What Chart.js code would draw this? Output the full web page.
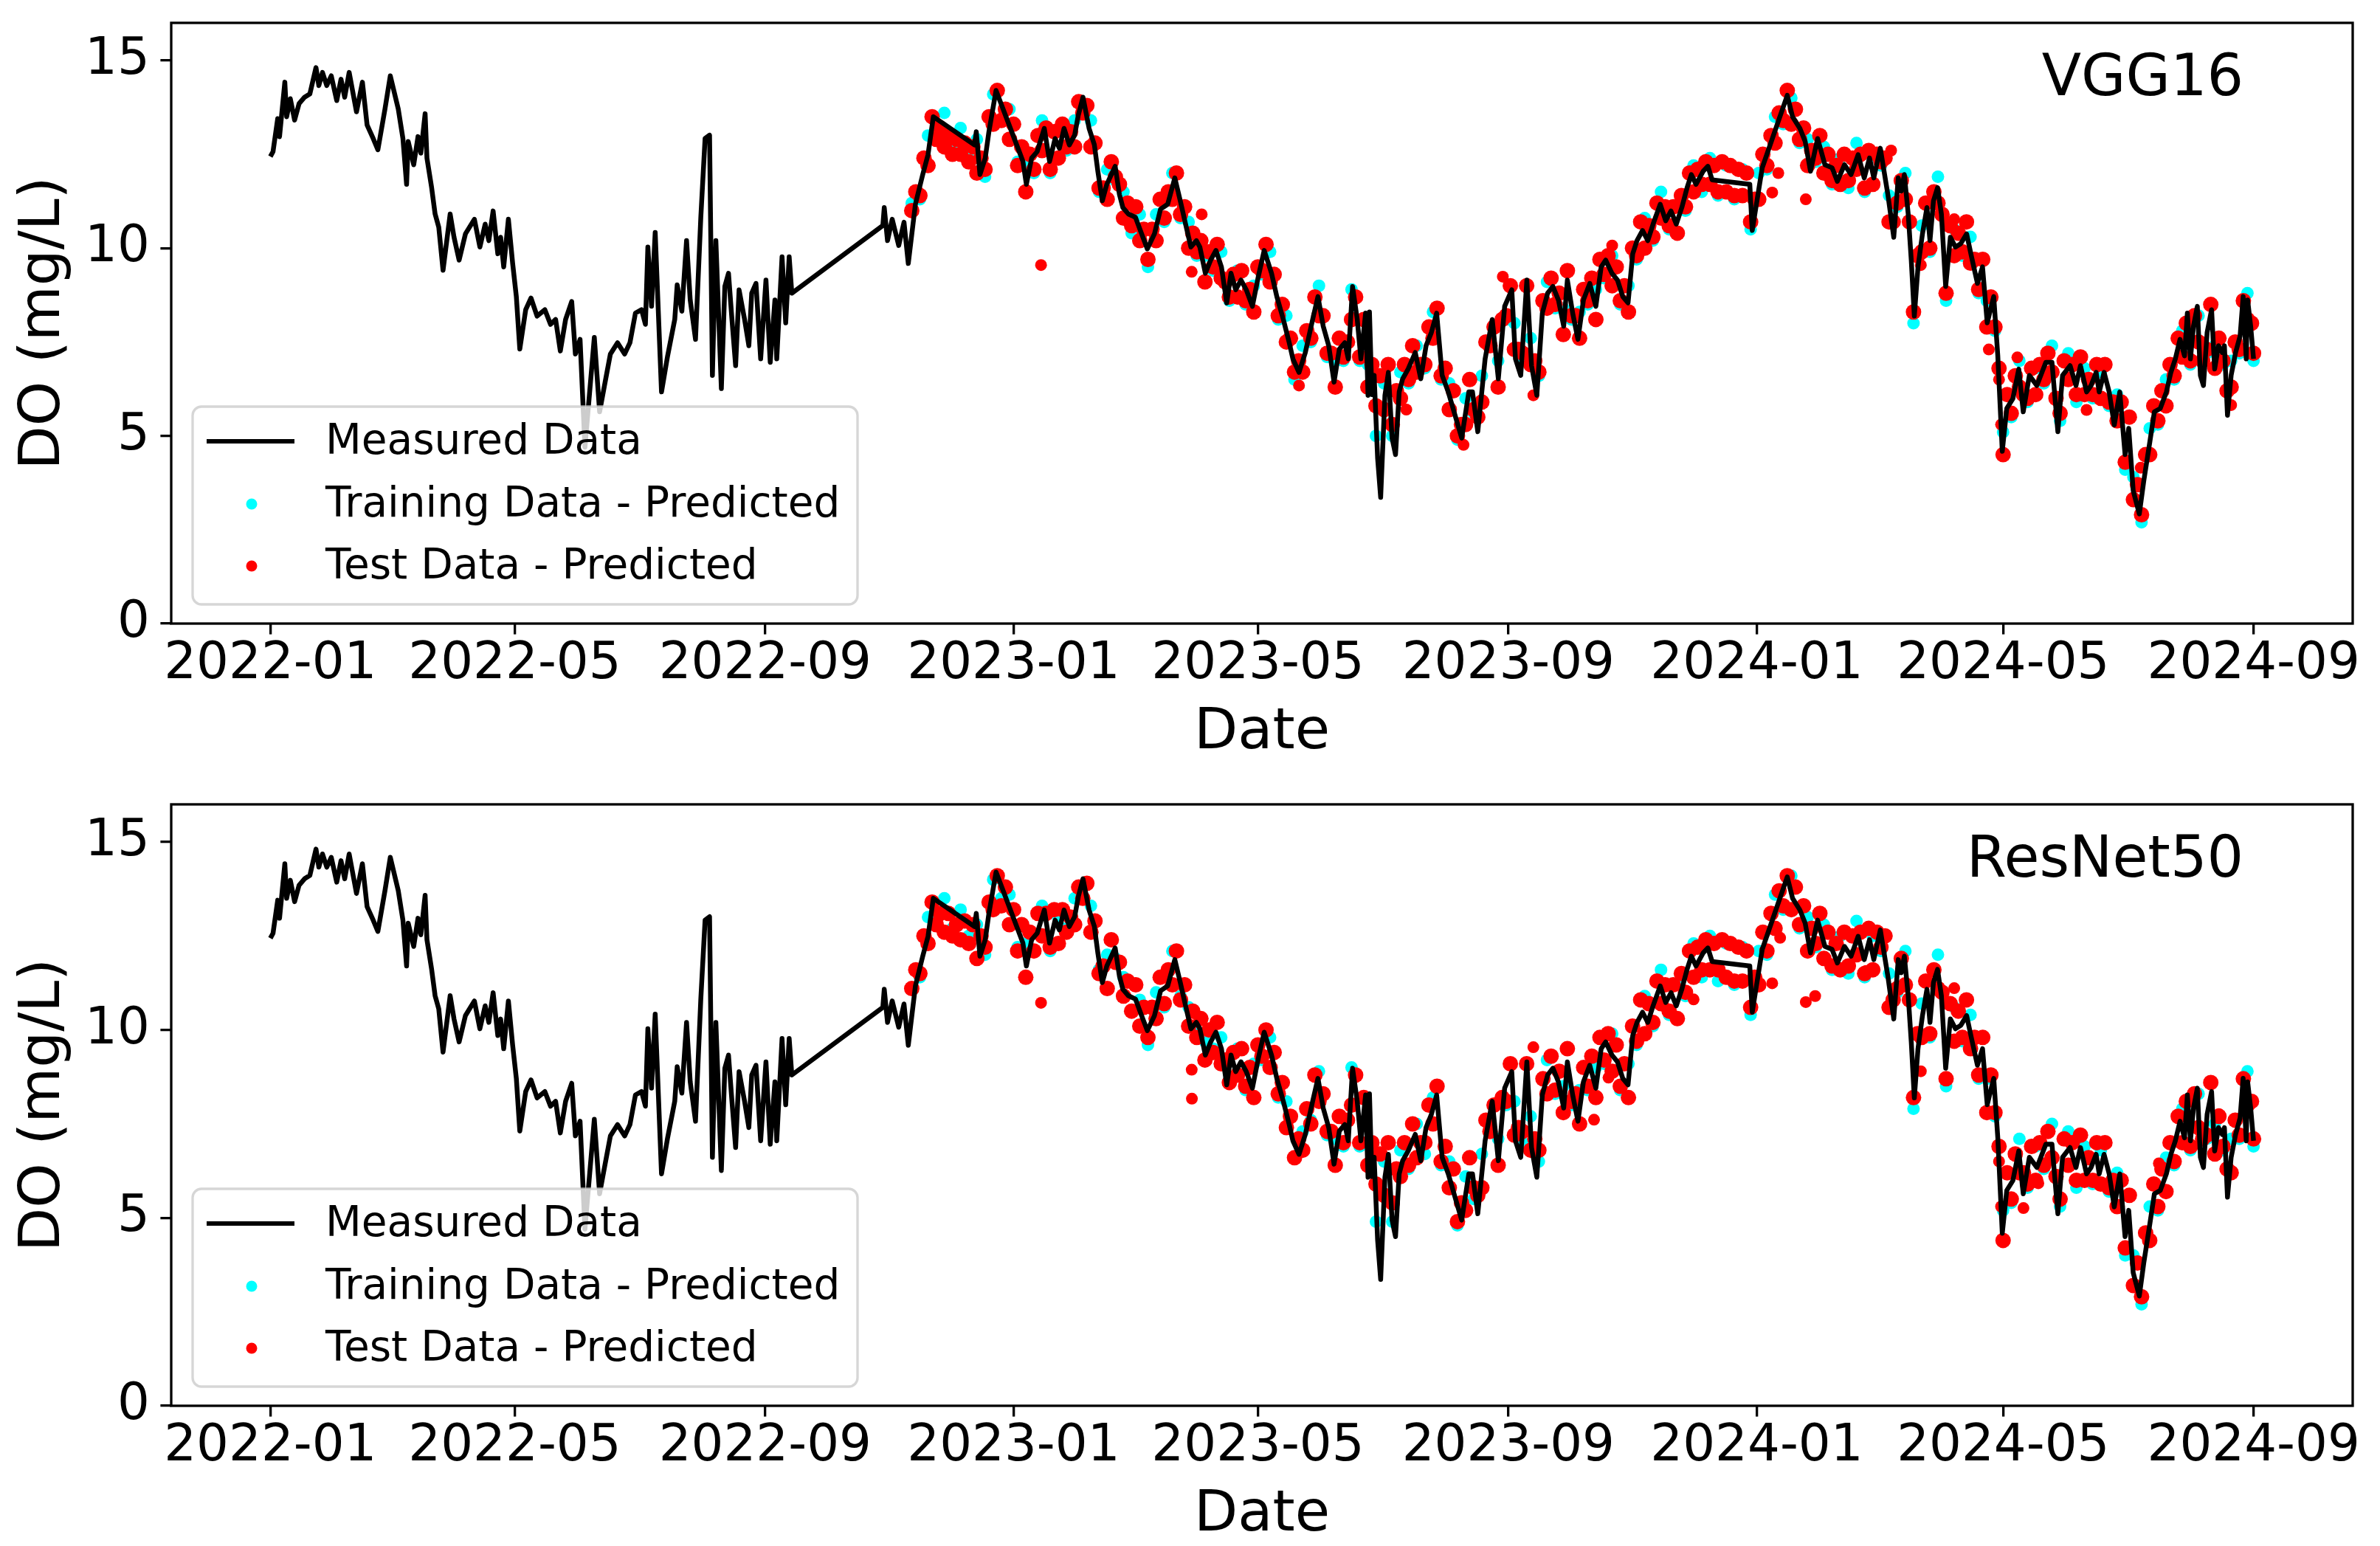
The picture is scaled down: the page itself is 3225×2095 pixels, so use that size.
<!DOCTYPE html>
<html>
<head>
<meta charset="utf-8">
<script src="https://cdn.jsdelivr.net/npm/chart.js@4.4.1/dist/chart.umd.min.js"></script>
<style>
  body { margin: 0; background: #fff; overflow: hidden; }
  canvas { position: absolute; left: 0; }
</style>
</head>
<body>
<canvas id="chartVgg" width="3225" height="1050" style="top:0px"></canvas>
<canvas id="chartRes" width="3225" height="1045" style="top:1050px"></canvas>
<script>
// x values are days since 2022-01-01
const tickDays = [0, 120, 243, 365, 485, 608, 730, 851, 974];
const tickLabels = ['2022-01', '2022-05', '2022-09', '2023-01', '2023-05', '2023-09', '2024-01', '2024-05', '2024-09'];
const yTicks = [0, 5, 10, 15];

// measured DO, Jan - Sep 2022
const measDaysA = [0, 1.3, 3.6, 4.5, 7.1, 8, 9.8, 11.9, 14.1, 16.8, 19.4, 22.4, 23.8, 25.6, 27.7, 29.9, 32.6, 34.7, 36.5, 38.7,
  42.3, 45.2, 47.5, 50.5, 52.8, 56.3, 58.9, 62.8, 65.1, 66.9, 67.7, 70.4, 72.5, 73.9, 76, 76.9, 79.2, 80.9, 82.7, 84.8,
  88.3, 90.2, 92.7, 95.8, 100.2, 102.9, 105.5, 107.3, 109.4, 111.7, 113.1, 114.6, 116.9, 119, 120.8, 122.5, 125.4, 128, 131, 134.8,
  137.6, 140.1, 142.4, 145, 148, 149.8, 152.1, 154.5, 159.1, 161.7, 164.4, 167, 170.5, 174, 176.6, 179.3, 182.3, 184.2, 185.4, 187.2,
  189, 192.1, 195.1, 198.6, 199.8, 202.1, 204.4, 206.2, 208.8, 211.4, 213.5, 215.7, 217.1, 218.8, 221.5, 223.2, 225, 226.7, 228.5, 230.2,
  232.9, 235, 236.4, 238.5, 240.8, 243.4, 245.5, 247.8, 248.7, 251.3, 253.1, 254.8, 256.1];
const measDoA = [12.44, 12.57, 13.45, 12.97, 14.42, 13.5, 13.98, 13.41, 13.85, 14.02, 14.11, 14.81, 14.33, 14.68, 14.33, 14.59, 13.93, 14.5, 14.02, 14.68,
  13.63, 14.42, 13.28, 12.92, 12.62, 13.71, 14.59, 13.71, 12.92, 11.7, 12.84, 12.22, 12.97, 12.53, 13.58, 12.4, 11.61, 10.91, 10.56, 9.41,
  10.91, 10.29, 9.68, 10.38, 10.77, 10.03, 10.64, 10.2, 10.99, 9.85, 10.29, 9.5, 10.77, 9.59, 8.71, 7.31, 8.36, 8.67, 8.19, 8.36,
  7.97, 8.1, 7.26, 8.1, 8.58, 7.18, 7.57, 4.7, 7.62, 5.64, 6.43, 7.18, 7.48, 7.18, 7.48, 8.27, 8.36, 7.97, 10.03, 8.45,
  10.42, 6.17, 7.13, 8.1, 9.02, 8.32, 10.2, 8.62, 7.57, 10.82, 12.92, 13.01, 6.61, 10.2, 6.26, 8.98, 9.33, 8.1, 6.87, 8.89,
  8.1, 7.4, 8.8, 9.06, 7.05, 9.15, 6.96, 8.62, 7.05, 9.77, 8.01, 9.77, 8.8];

// measured DO, Oct 2022 - Jun 2023
const measDaysB = [300.8, 301.5, 303.1, 305.4, 308.6, 311.2, 313.3, 316.8, 320.4, 323, 325.6, 345.8, 346.7, 348.5, 351.1, 352.9, 356.4, 367.8, 369.6, 371.3,
  373.9, 376.6, 380.1, 382.7, 385.4, 387.5, 389.8, 392.4, 395, 396.8, 399.1, 402.1, 404.7, 406.4, 408.6, 410.8, 414.9, 417, 418.7, 421.4,
  424.9, 427.9, 430.7, 434.2, 437.2, 440.7, 444.2, 446.9, 449.5, 452.1, 454.8, 456.5, 459.2, 461.8, 464.4, 467.1, 469.7, 471.8, 474.1, 476.7,
  479.3, 482.3, 485.2, 488.1, 491.7, 494.3, 497.5, 500.4, 502.2, 505.2, 508.3, 511.9, 514.5, 517.1, 519.8, 522.4, 525, 527.7, 529.4, 531.5,
  533.8, 535.6, 537.9, 539.1];
const measDoB = [10.6, 11.08, 10.2, 10.77, 10.07, 10.69, 9.59, 11.17, 11.96, 12.49, 13.5, 12.75, 13.1, 11.96, 12.4, 13.1, 14.2, 12.57, 12.31, 11.7,
  12.4, 12.57, 13.19, 12.31, 12.92, 12.66, 13.19, 12.75, 13.01, 13.54, 14.02, 13.19, 12.75, 12.05, 11.26, 11.7, 12.18, 11.43, 11.08, 10.91,
  10.82, 10.38, 9.98, 10.38, 11.04, 11.17, 11.87, 11.26, 10.64, 10.03, 10.2, 10.03, 9.33, 9.68, 9.94, 9.5, 8.54, 9.33, 8.89, 9.15,
  8.89, 8.45, 9.24, 9.94, 9.33, 8.71, 8.1, 7.48, 7.05, 6.69, 7.22, 8.1, 8.71, 7.92, 7.4, 6.43, 7.31, 7.48, 7.05, 8.98,
  8.1, 7.05, 8.27, 6.08];

// measured DO, Jun 2023 - Mar 2024
const measDaysC = [539.8, 541, 542.1, 543.8, 545.3, 547.4, 549.1, 550.9, 552.6, 554.4, 556.1, 558.8, 562.3, 565, 567.6, 570.2, 572.8, 575.5, 578.5, 585.1,
  588.6, 590.4, 593, 596.6, 600.1, 603.1, 606.2, 609.7, 611.5, 614.1, 617.1, 619.4, 622, 624.7, 627.3, 629.9, 632.6, 635.2, 637, 639.6,
  642.2, 644.9, 648, 651, 653.6, 655.8, 658.9, 661.6, 664.2, 666.8, 669.1, 671.2, 673.9, 676.5, 679.1, 682.6, 685.3, 687.9, 690.5, 693.2,
  695.8, 697.9, 700.2, 703.7, 706, 708.1, 726.6, 727.8, 730.1, 732.7, 745, 747.6, 751.2, 753.8, 756.4, 759.9, 763.5, 767, 769.6, 773.1,
  776.3, 779.8, 782.8, 785.4, 787.5, 790.7];
const measDoC = [8.3, 6.1, 6.61, 4.41, 3.36, 6.08, 6.69, 4.94, 4.5, 6.17, 6.52, 6.78, 7.22, 6.52, 7.4, 7.75, 8.27, 6.61, 6.17, 4.94,
  6.17, 6.17, 5.11, 7.05, 8.1, 6.52, 8.45, 8.89, 7.05, 6.61, 9.15, 6.87, 6.08, 8.27, 8.8, 8.98, 8.62, 7.92, 9.15, 8.27,
  7.57, 8.62, 9.06, 8.45, 9.5, 9.68, 9.33, 9.15, 8.71, 8.54, 9.85, 10.2, 10.47, 10.2, 10.64, 11.17, 10.73, 10.99, 10.64, 11.08,
  11.61, 11.96, 11.7, 12.05, 12.18, 11.82, 11.7, 10.47, 11.26, 12.14, 14.07, 13.5, 13.19, 12.84, 12.05, 12.92, 12.22, 12.14, 11.78, 12.22,
  11.96, 12.49, 11.87, 12.4, 11.87, 12.66];

// measured DO, Mar - Sep 2024
const measDaysD = [794.4, 797.3, 799.5, 801, 802.5, 804.4, 805.9, 807.4, 809.2, 811.4, 813.6, 815.1, 816.8, 818.8, 820.7, 822.8, 825.1, 827.6, 830.2, 833.1,
  835.5, 838.4, 840.9, 843.2, 846.4, 848.4, 850.6, 852.8, 855.8, 858.7, 860.9, 863.9, 867.6, 872, 875, 877.9, 880.2, 883.9, 886.8, 889,
  892, 894.2, 896.7, 898.2, 900.6, 903.1, 905.6, 908.3, 910.9, 912.7, 914.9, 917.9, 920.1, 923.1, 925.3, 928.2, 931.2, 933.4, 935.6, 937.9,
  940.1, 941.5, 943, 944.5, 946.4, 947.9, 949.4, 951.2, 953.4, 954.9, 956.8, 958.6, 959.7, 961.2, 963, 965.2, 967.4, 968.9, 970.4, 971.1,
  972.6, 974];
const measDoD = [11.43, 10.29, 11.87, 11.52, 11.96, 10.91, 9.68, 8.19, 9.5, 10.38, 11.08, 10.2, 11.26, 11.61, 10.91, 8.98, 10.29, 10.03, 10.12, 10.38,
  9.77, 9.06, 9.5, 8.01, 8.71, 7.13, 4.59, 5.73, 5.99, 6.78, 5.64, 6.61, 6.34, 6.96, 6.96, 5.11, 6.61, 6.87, 6.34, 6.87,
  6.17, 6.34, 6.69, 6.17, 6.69, 6.17, 5.29, 6.17, 4.5, 5.2, 3.54, 2.92, 3.8, 4.85, 5.64, 5.73, 6.17, 6.69, 7.05, 7.57,
  7.13, 8.27, 7.05, 7.92, 8.45, 6.61, 6.34, 7.75, 8.36, 6.78, 7.4, 7.22, 7.4, 5.55, 6.61, 7.22, 7.66, 8.71, 7.05, 8.62,
  7.92, 7.05];

// days with model predictions (train + test)
const predDays = [315, 319, 323, 327, 331, 335, 339, 343, 347, 351,
  355, 359, 363, 367, 371, 375, 379, 383, 387, 391,
  395, 399, 403, 407, 411, 415, 419, 423, 427, 431,
  435, 439, 443, 447, 451, 455, 459, 463, 467, 471,
  475, 479, 483, 487, 491, 495, 499, 503, 507, 511,
  515, 519, 523, 527, 531, 535, 539, 543, 547, 551,
  555, 559, 563, 567, 571, 575, 579, 583, 587, 591,
  595, 599, 603, 607, 611, 615, 619, 623, 627, 631,
  635, 639, 643, 647, 651, 655, 659, 663, 667, 671,
  675, 679, 683, 687, 691, 695, 699, 703, 707, 711,
  715, 719, 723, 727, 731, 735, 739, 743, 747, 751,
  755, 759, 763, 767, 771, 775, 779, 783, 787, 791,
  795, 799, 803, 807, 811, 815, 819, 823, 827, 831,
  835, 839, 843, 847, 851, 855, 859, 863, 867, 871,
  875, 879, 883, 887, 891, 895, 899, 903, 907, 911,
  915, 919, 923, 927, 931, 935, 939, 943, 947, 951,
  955, 959, 963, 967, 971, 974];
// further test-set days in between
const midDays = [317, 321, 325, 329, 333, 337, 341, 345, 349, 353,
  357, 361, 365, 369, 373, 377, 381, 385, 389, 393,
  397, 401, 405, 409, 413, 417, 421, 425, 429, 433,
  437, 441, 445, 449, 453, 457, 461, 465, 469, 473,
  477, 481, 485, 489, 493, 497, 501, 505, 509, 513,
  517, 521, 525, 529, 533, 537, 541, 545, 549, 553,
  557, 561, 565, 569, 573, 577, 581, 585, 589, 593,
  597, 601, 605, 609, 613, 617, 621, 625, 629, 633,
  637, 641, 645, 649, 653, 657, 661, 665, 669, 673,
  677, 681, 685, 689, 693, 697, 701, 705, 709, 713,
  717, 721, 725, 729, 733, 737, 741, 745, 749, 753,
  757, 761, 765, 769, 773, 777, 781, 785, 789, 793,
  797, 801, 805, 809, 813, 817, 821, 825, 829, 833,
  837, 841, 845, 849, 853, 857, 861, 865, 869, 873,
  877, 881, 885, 889, 893, 897, 901, 905, 909, 913,
  917, 921, 925, 929, 933, 937, 941, 945, 949, 953,
  957, 961, 965, 969, 973];

// training predictions, read along the outer cyan edges of the band
const vggTrain = [11.2, 11.3, 13.0, 12.9, 13.6, 12.6, 13.2, 12.4, 12.9, 11.9,
  14.1, 13.4, 13.7, 12.3, 12.2, 12.0, 13.4, 12.0, 13.1, 12.6,
  13.4, 13.6, 13.4, 11.5, 12.1, 11.8, 11.5, 10.4, 10.9, 9.5,
  10.9, 10.7, 12.0, 10.8, 10.7, 9.8, 9.8, 9.4, 9.9, 8.6,
  9.4, 8.5, 9.0, 9.3, 9.9, 8.1, 8.2, 6.5, 7.4, 7.5,
  9.0, 7.1, 7.0, 7.0, 8.9, 7.0, 6.9, 5.0, 6.4, 5.0,
  6.7, 6.4, 7.4, 6.8, 8.3, 6.5, 6.4, 4.9, 6.0, 5.6,
  6.6, 7.4, 7.0, 8.1, 8.0, 7.1, 7.6, 6.6, 9.1, 8.4,
  8.4, 8.1, 8.3, 8.5, 8.9, 9.2, 9.8, 8.5, 9.0, 9.7,
  10.8, 10.2, 11.5, 10.5, 11.1, 11.0, 12.2, 11.5, 12.4, 11.4,
  12.2, 11.3, 12.1, 10.5, 12.0, 12.1, 13.5, 13.3, 14.0, 12.8,
  12.9, 12.3, 12.7, 11.7, 12.4, 11.6, 12.8, 11.5, 12.4, 12.2,
  11.4, 11.1, 12.0, 8.0, 10.6, 9.9, 11.9, 8.6, 10.5, 9.8,
  10.3, 8.8, 8.6, 7.8, 5.1, 5.5, 7.0, 5.9, 6.8, 6.4,
  7.4, 5.4, 7.2, 5.9, 6.8, 6.0, 6.7, 5.8, 6.1, 4.1,
  3.9, 2.7, 5.2, 5.3, 6.5, 6.5, 7.8, 6.9, 8.2, 7.2,
  7.4, 6.9, 7.0, 7.2, 8.8, 7.0];
// test predictions, lower side of the red band
const vggTest = [11.0, 11.4, 12.2, 12.9, 12.7, 12.5, 12.5, 12.3, 12.0, 12.1,
  13.3, 13.4, 12.9, 12.2, 11.5, 12.1, 12.6, 12.1, 12.4, 12.7,
  12.7, 13.6, 12.7, 11.6, 11.3, 11.9, 10.8, 10.6, 10.2, 9.7,
  10.2, 10.8, 11.3, 10.9, 10.0, 9.9, 9.1, 9.5, 9.2, 8.7,
  8.7, 8.6, 8.3, 9.4, 9.1, 8.2, 7.5, 6.7, 6.7, 7.6,
  8.2, 7.2, 6.3, 7.1, 8.1, 7.1, 6.3, 5.8, 5.7, 5.3,
  6.0, 6.5, 6.7, 6.9, 7.6, 6.6, 5.7, 5.0, 5.3, 5.7,
  5.9, 7.4, 6.3, 8.2, 7.3, 7.2, 6.9, 6.7, 8.4, 8.5,
  7.7, 8.2, 7.6, 8.6, 8.1, 9.3, 9.0, 8.6, 8.3, 9.8,
  10.0, 10.3, 10.8, 10.6, 10.4, 11.1, 11.5, 11.7, 11.7, 11.5,
  11.5, 11.4, 11.4, 10.7, 11.3, 12.2, 12.8, 13.4, 13.3, 12.9,
  12.2, 12.4, 12.0, 11.8, 11.7, 11.8, 12.1, 11.6, 11.7, 12.3,
  10.7, 11.2, 11.3, 8.3, 9.9, 10.0, 11.2, 8.8, 9.8, 9.9,
  9.6, 8.9, 7.9, 7.9, 4.5, 5.6, 6.3, 6.0, 6.1, 6.5,
  6.7, 5.6, 6.5, 6.1, 6.1, 6.1, 6.0, 5.9, 5.4, 4.3,
  3.3, 2.9, 4.5, 5.4, 5.8, 6.6, 7.1, 7.0, 7.5, 7.3,
  6.8, 7.0, 6.3, 7.3, 8.1, 7.2];
// test predictions, upper side of the red band
const vggTestMid = [11.5, 12.4, 13.5, 13.2, 13.0, 12.9, 12.8, 12.7, 12.4, 13.5,
  14.2, 13.7, 13.3, 12.7, 12.5, 13.0, 13.2, 13.1, 13.3, 13.1,
  13.9, 13.8, 12.8, 11.6, 12.3, 11.7, 11.2, 11.1, 10.5, 10.5,
  11.3, 11.5, 12.0, 11.1, 10.4, 10.2, 9.9, 10.1, 9.1, 9.3,
  9.4, 8.9, 9.5, 10.1, 9.3, 8.5, 7.6, 7.0, 7.8, 8.7,
  8.2, 7.2, 7.6, 7.5, 8.7, 8.1, 6.9, 6.6, 6.9, 6.2,
  6.9, 7.4, 6.9, 7.9, 8.4, 6.8, 6.2, 5.3, 6.5, 5.5,
  7.5, 7.9, 8.1, 9.0, 7.3, 9.0, 7.0, 8.6, 9.2, 8.8,
  9.4, 8.2, 8.9, 9.2, 9.7, 9.8, 9.5, 9.0, 10.0, 10.7,
  10.6, 11.2, 11.1, 11.1, 11.4, 12.0, 12.1, 12.3, 12.2, 12.3,
  12.2, 12.1, 12.0, 11.3, 12.5, 13.0, 13.6, 14.2, 13.7, 13.2,
  12.6, 13.0, 12.5, 12.2, 12.5, 12.4, 12.5, 12.6, 12.5, 12.4,
  10.7, 11.8, 10.7, 9.8, 11.2, 11.5, 10.9, 10.6, 10.4, 10.7,
  9.7, 9.7, 8.7, 6.8, 6.1, 6.6, 6.1, 6.8, 6.9, 7.2,
  6.0, 7.0, 6.9, 7.1, 6.5, 6.9, 6.9, 5.9, 5.9, 5.5,
  3.7, 4.5, 5.8, 6.2, 6.9, 7.6, 8.0, 8.2, 7.0, 8.5,
  7.6, 6.2, 7.5, 8.6, 8.0];
// scattered test predictions off the main band
const vggTestExtraDays = [378.5, 452.5, 457.4, 505.2, 557.9, 586, 605.3, 620.3, 659, 737.6, 740.6, 754.1, 796, 810.6, 827, 844, 849, 850, 858, 892, 918.6, 963];
const vggTestExtraDo = [9.55, 9.37, 10.9, 6.34, 5.7, 4.76, 9.24, 6.08, 10.07, 11.48, 12.0, 11.3, 12.6, 9.55, 10.77, 7.3, 6.5, 5.3, 7.09, 5.69, 4.15, 5.82];

const resTrain = [11.1, 11.4, 13.0, 12.8, 13.5, 12.7, 13.2, 12.5, 12.8, 12.0,
  14.0, 13.5, 13.6, 12.2, 12.3, 12.1, 13.3, 12.1, 13.0, 12.7,
  13.5, 13.5, 13.3, 11.6, 12.0, 11.9, 11.4, 10.5, 10.8, 9.6,
  11.0, 10.6, 12.1, 10.9, 10.6, 9.9, 9.7, 9.5, 9.8, 8.7,
  9.5, 8.4, 9.1, 9.2, 9.8, 8.2, 8.1, 6.6, 7.3, 7.6,
  8.9, 7.2, 7.1, 6.9, 9.0, 6.9, 7.0, 4.9, 6.5, 4.9,
  6.8, 6.3, 7.5, 6.7, 8.2, 6.4, 6.5, 4.8, 6.1, 5.5,
  6.7, 7.3, 7.1, 8.0, 8.1, 7.0, 7.7, 6.5, 9.2, 8.3,
  8.5, 8.0, 8.4, 8.4, 9.0, 9.1, 9.9, 8.4, 9.1, 9.6,
  10.9, 10.1, 11.6, 10.4, 11.2, 10.9, 12.3, 11.4, 12.5, 11.3,
  12.3, 11.2, 12.2, 10.4, 12.1, 12.0, 13.6, 13.2, 14.1, 12.7,
  13.0, 12.2, 12.8, 11.6, 12.5, 11.5, 12.9, 11.4, 12.5, 12.1,
  11.5, 11.0, 12.1, 7.9, 10.7, 9.8, 12.0, 8.5, 10.6, 9.7,
  10.4, 8.7, 8.7, 7.7, 5.2, 5.4, 7.1, 5.8, 6.9, 6.3,
  7.5, 5.3, 7.3, 5.8, 6.9, 5.9, 6.8, 5.7, 6.2, 4.0,
  4.0, 2.7, 5.3, 5.2, 6.6, 6.4, 7.9, 6.8, 8.3, 7.1,
  7.5, 6.8, 7.1, 7.1, 8.9, 6.9];
const resTest = [11.1, 11.5, 12.3, 12.8, 12.6, 12.5, 12.4, 12.3, 11.9, 12.2,
  13.2, 13.3, 12.8, 12.1, 11.4, 12.1, 12.5, 12.2, 12.3, 12.6,
  12.8, 13.5, 12.6, 11.5, 11.1, 11.8, 10.9, 10.5, 10.1, 9.8,
  10.3, 10.7, 11.2, 10.8, 10.1, 9.8, 9.2, 9.4, 9.1, 8.6,
  8.8, 8.5, 8.2, 9.3, 9.0, 8.3, 7.4, 6.6, 6.8, 7.5,
  8.1, 7.3, 6.4, 7.0, 8.0, 7.0, 6.4, 5.9, 5.6, 5.4,
  6.1, 6.4, 6.6, 7.0, 7.5, 6.5, 5.8, 4.9, 5.2, 5.8,
  5.8, 7.3, 6.4, 8.1, 7.2, 7.3, 6.8, 6.8, 8.3, 8.4,
  7.8, 8.1, 7.5, 8.5, 8.2, 9.2, 8.9, 8.5, 8.2, 9.7,
  9.9, 10.2, 10.7, 10.5, 10.3, 11.0, 11.4, 11.6, 11.6, 11.6,
  11.4, 11.3, 11.3, 10.6, 11.2, 12.1, 12.7, 13.3, 13.2, 12.8,
  12.1, 12.3, 11.9, 11.7, 11.6, 11.7, 12.0, 11.5, 11.6, 12.2,
  10.6, 11.1, 11.2, 8.2, 9.8, 9.9, 11.1, 8.7, 9.7, 9.8,
  9.5, 8.8, 7.8, 7.8, 4.4, 5.5, 6.2, 5.9, 6.0, 6.4,
  6.6, 5.5, 6.4, 6.0, 6.0, 6.0, 5.9, 5.8, 5.3, 4.2,
  3.2, 2.9, 4.4, 5.3, 5.7, 6.5, 7.0, 6.9, 7.4, 7.2,
  6.7, 6.9, 6.2, 7.2, 8.0, 7.1];
const resTestMid = [11.6, 12.5, 13.4, 13.1, 13.1, 12.8, 12.9, 12.8, 12.5, 13.4,
  14.1, 13.8, 13.2, 12.8, 12.6, 13.1, 13.1, 13.2, 13.2, 13.0,
  13.8, 13.9, 12.9, 11.7, 12.4, 11.8, 11.3, 11.2, 10.6, 10.6,
  11.4, 11.6, 12.1, 11.2, 10.5, 10.3, 10.0, 10.2, 9.2, 9.4,
  9.5, 9.0, 9.6, 10.0, 9.4, 8.6, 7.7, 7.1, 7.9, 8.8,
  8.3, 7.3, 7.7, 7.6, 8.8, 8.2, 7.0, 6.7, 7.0, 6.3,
  7.0, 7.5, 7.0, 8.0, 8.5, 6.9, 6.3, 5.4, 6.6, 5.6,
  7.6, 8.0, 8.2, 9.1, 7.4, 9.1, 7.1, 8.7, 9.3, 8.9,
  9.5, 8.3, 9.0, 9.3, 9.8, 9.9, 9.6, 9.1, 10.1, 10.8,
  10.7, 11.3, 11.2, 11.2, 11.5, 12.1, 12.2, 12.4, 12.3, 12.4,
  12.3, 12.2, 12.1, 11.4, 12.6, 13.1, 13.7, 14.1, 13.8, 13.3,
  12.7, 13.1, 12.6, 12.3, 12.6, 12.5, 12.6, 12.7, 12.6, 12.5,
  10.8, 11.9, 10.8, 9.9, 11.3, 11.6, 11.0, 10.7, 10.5, 10.8,
  9.8, 9.8, 8.8, 6.9, 6.2, 6.7, 6.2, 6.9, 7.0, 7.3,
  6.1, 7.1, 7.0, 7.2, 6.6, 7.0, 7.0, 6.0, 6.0, 5.6,
  3.8, 4.6, 5.9, 6.3, 7.0, 7.7, 8.1, 8.3, 7.1, 8.6,
  7.7, 6.3, 7.6, 8.7, 8.1];
const resTestExtraDays = [378.5, 452.5, 452.6, 620.3, 650.1, 657.2, 699, 737.6, 741.5, 754.1, 758.7, 783.7, 810.6, 827, 849, 850, 861, 868.3, 927.5, 957];
const resTestExtraDo = [10.72, 8.94, 8.17, 9.54, 7.61, 8.73, 10.81, 11.24, 12.45, 10.74, 10.9, 11.57, 8.9, 11.11, 6.5, 5.3, 5.26, 5.92, 6.45, 7.76];

const measDays = measDaysA.concat(measDaysB, measDaysC, measDaysD);
const measDo = measDoA.concat(measDoB, measDoC, measDoD);

const FONT = '"DejaVu Sans", sans-serif';
Chart.defaults.font.family = FONT;
Chart.defaults.color = '#000';

function roundedBox(ctx, x, y, w, h, r) {
  ctx.beginPath();
  ctx.moveTo(x + r, y);
  ctx.arcTo(x + w, y, x + w, y + h, r);
  ctx.arcTo(x + w, y + h, x, y + h, r);
  ctx.arcTo(x, y + h, x, y, r);
  ctx.arcTo(x, y, x + w, y, r);
  ctx.closePath();
}

// frame, legend box and model name, drawn over the data like matplotlib does
const axesDecor = {
  id: 'axesDecor',
  afterDatasetsDraw(chart, args, opts) {
    const { ctx, chartArea: a } = chart;
    ctx.save();
    ctx.lineWidth = 3.3;
    ctx.strokeStyle = '#000';
    ctx.strokeRect(a.left, a.top, a.right - a.left, a.bottom - a.top);

    const bw = 901, bh = 268;
    const bx = a.left + 29, by = a.bottom - 26 - bh;
    roundedBox(ctx, bx, by, bw, bh, 12);
    ctx.fillStyle = 'rgba(255,255,255,0.8)';
    ctx.fill();
    ctx.strokeStyle = 'rgba(204,204,204,0.8)';
    ctx.lineWidth = 3.3;
    ctx.stroke();

    const rows = [47, 132, 216];
    ctx.font = '56.5px ' + FONT;
    ctx.textAlign = 'left';
    ctx.textBaseline = 'middle';
    chart.data.datasets.forEach((ds, i) => {
      const cy = by + rows[i];
      if (ds.showLine) {
        ctx.strokeStyle = ds.borderColor;
        ctx.lineWidth = 6;
        ctx.beginPath();
        ctx.moveTo(bx + 19, cy);
        ctx.lineTo(bx + 138, cy);
        ctx.stroke();
      } else {
        ctx.fillStyle = ds.backgroundColor;
        ctx.beginPath();
        ctx.arc(bx + 80, cy, 7.5, 0, Math.PI * 2);
        ctx.fill();
      }
      ctx.fillStyle = '#000';
      ctx.fillText(ds.label, bx + 180, cy + 2);
    });

    ctx.font = '78px ' + FONT;
    ctx.textAlign = 'right';
    ctx.textBaseline = 'alphabetic';
    ctx.fillText(opts.label, a.left + 0.95 * (a.right - a.left), a.top + 0.05 * (a.bottom - a.top) + 57);
    ctx.restore();
  }
};

const pts = (xs, ys) => xs.map((x, i) => ({ x: x, y: ys[i] }));
const bandCount = predDays.length + midDays.length;

function buildChart(id, name, trainVals, testVals, testMid, extraDays, extraVals, padTop, xHeight, titlePad) {
  return new Chart(document.getElementById(id), {
    type: 'scatter',
    data: {
      datasets: [
        { label: 'Measured Data', data: pts(measDays, measDo), showLine: true, borderColor: '#000000',
          borderWidth: 6.5, borderJoinStyle: 'round', pointRadius: 0, order: 0 },
        { label: 'Training Data - Predicted', data: pts(predDays, trainVals), backgroundColor: '#00ffff',
          borderWidth: 0, pointRadius: 8.5, order: 2 },
        { label: 'Test Data - Predicted',
          data: pts(predDays, testVals).concat(pts(midDays, testMid), pts(extraDays, extraVals)),
          backgroundColor: '#ff0000', borderWidth: 0, order: 1,
          // the dense band points overlap into a ribbon; lone outliers keep the plain marker size
          pointRadius: c => (c.dataIndex < bandCount ? 10.5 : 8) }
      ]
    },
    options: {
      responsive: false,
      animation: false,
      events: [],
      layout: { padding: { top: padTop, right: 37, left: 0, bottom: 0 } },
      plugins: {
        legend: { display: false },
        tooltip: { enabled: false },
        axesDecor: { label: name }
      },
      scales: {
        x: {
          type: 'linear',
          min: -48.7,
          max: 1022.7,
          afterBuildTicks: s => { s.ticks = tickDays.map(v => ({ value: v })); },
          afterFit: s => { s.height = xHeight; s.paddingLeft = 0; s.paddingRight = 0; },
          ticks: { autoSkip: false, maxRotation: 0, minRotation: 0, padding: 0, color: '#000',
            font: { size: 69 }, callback: (v, i) => tickLabels[i] },
          grid: { drawOnChartArea: false, drawTicks: true, tickLength: 14.6, lineWidth: 3.3,
            tickWidth: 3.3, tickColor: '#000', color: '#000' },
          border: { display: false },
          title: { display: true, text: 'Date', color: '#000', font: { size: 77 },
            padding: { top: 0, bottom: titlePad } }
        },
        y: {
          min: 0,
          max: 16,
          afterBuildTicks: s => { s.ticks = yTicks.map(v => ({ value: v })); },
          afterFit: s => { s.width = 232; s.paddingTop = 0; s.paddingBottom = 0; },
          ticks: { padding: 14.6, color: '#000', font: { size: 69 } },
          grid: { drawOnChartArea: false, drawTicks: true, tickLength: 14.6, lineWidth: 3.3,
            tickWidth: 3.3, tickColor: '#000', color: '#000' },
          border: { display: false },
          title: { display: true, text: 'DO (mg/L)', color: '#000', font: { size: 77 },
            padding: { top: 14, bottom: 0 } }
        }
      }
    },
    plugins: [axesDecor]
  });
}

buildChart('chartVgg', 'VGG16', vggTrain, vggTest, vggTestMid, vggTestExtraDays, vggTestExtraDo, 31, 205, 10);
buildChart('chartRes', 'ResNet50', resTrain, resTest, resTestMid, resTestExtraDays, resTestExtraDo, 40, 190, -5);
</script>
</body>
</html>
